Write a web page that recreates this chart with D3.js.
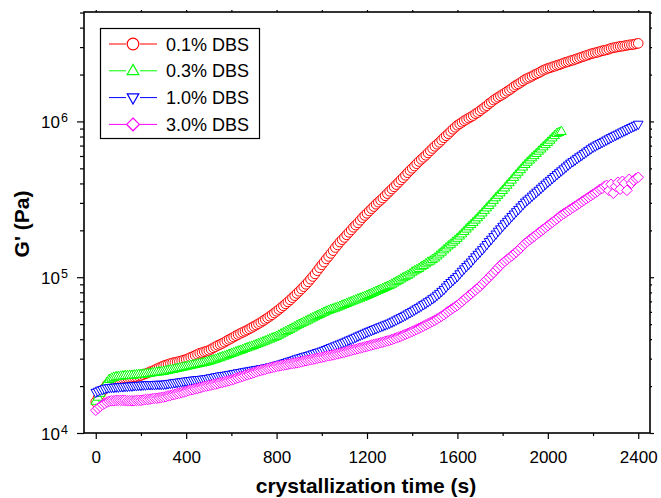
<!DOCTYPE html>
<html>
<head>
<meta charset="utf-8">
<script src="https://cdn.jsdelivr.net/npm/d3@7"></script>
<style>
  body { margin: 0; background: #fff; }
  svg { display: block; }
  text { font-family: Arial, "Liberation Sans", Helvetica, sans-serif; fill: #000; }
</style>
</head>
<body>
<svg id="chart" width="661" height="498"></svg>
<script>
// Storage modulus G' (Pa) recorded every 10 s during isothermal crystallization
const sampleStep = 10; // s

const seriesNames = ["0.1% DBS", "0.3% DBS", "1.0% DBS", "3.0% DBS"];

const dbs01 = [
  15800, 16800, 17700, 18600, 19500, 20400, 21200, 21600, 21900, 22100,
  22200, 22300, 22400, 22500, 22600, 22700, 22800, 22900, 23000, 23200,
  23400, 23700, 24000, 24300, 24700, 25000, 25400, 25800, 26200, 26600,
  27000, 27300, 27600, 27900, 28200, 28400, 28600, 28800, 29100, 29400,
  29700, 30100, 30600, 31000, 31500, 32000, 32500, 32800, 33200, 33500,
  33900, 34500, 35200, 35800, 36500, 37000, 37600, 38300, 39100, 39800,
  40500, 41300, 42100, 42800, 43600, 44300, 45000, 45800, 46600, 47500,
  48400, 49300, 50300, 51300, 52400, 53600, 54800, 56100, 57400, 58900,
  60400, 62000, 63700, 65500, 67400, 69400, 71500, 73800, 76100, 78600,
  81200, 84000, 86900, 90000, 93300, 97100, 101000, 105000, 110000, 115000,
  120000, 125000, 131000, 136000, 142000, 148000, 155000, 161000, 168000, 174000,
  180000, 187000, 194000, 201000, 209000, 216000, 223000, 232000, 241000, 249000,
  257000, 266000, 275000, 284000, 294000, 303000, 312000, 322000, 333000, 344000,
  356000, 368000, 380000, 393000, 407000, 421000, 435000, 451000, 468000, 484000,
  500000, 517000, 535000, 553000, 571000, 588000, 606000, 627000, 648000, 670000,
  692000, 713000, 734000, 759000, 785000, 809000, 833000, 861000, 890000, 917000,
  944000, 965000, 987000, 1010000, 1030000, 1050000, 1070000, 1090000, 1120000, 1140000,
  1170000, 1200000, 1230000, 1260000, 1300000, 1330000, 1370000, 1400000, 1430000, 1460000,
  1490000, 1520000, 1560000, 1590000, 1630000, 1670000, 1710000, 1740000, 1780000, 1820000,
  1860000, 1890000, 1920000, 1950000, 1990000, 2020000, 2050000, 2090000, 2130000, 2160000,
  2190000, 2210000, 2240000, 2260000, 2290000, 2310000, 2340000, 2370000, 2400000, 2420000,
  2450000, 2470000, 2500000, 2530000, 2560000, 2590000, 2620000, 2650000, 2680000, 2710000,
  2740000, 2760000, 2780000, 2810000, 2840000, 2860000, 2880000, 2910000, 2950000, 2970000,
  2990000, 3010000, 3030000, 3040000, 3060000, 3080000, 3100000, 3110000, 3120000, 3150000,
  3170000
];

const dbs03 = [
  16000, 17000, 18000, 19100, 20200, 21200, 22100, 22500, 22800, 23000,
  23100, 23200, 23300, 23400, 23400, 23500, 23500, 23600, 23700, 23800,
  23800, 23900, 24000, 24100, 24200, 24400, 24500, 24600, 24700, 24800,
  24900, 25100, 25300, 25500, 25600, 25800, 26000, 26200, 26400, 26600,
  26800, 27000, 27200, 27400, 27600, 27800, 28000, 28200, 28400, 28600,
  28900, 29200, 29500, 29800, 30200, 30500, 30900, 31200, 31600, 32000,
  32400, 32800, 33200, 33600, 34000, 34400, 34900, 35300, 35700, 36100,
  36500, 37000, 37500, 38000, 38500, 39000, 39600, 40100, 40700, 41200,
  41800, 42500, 43300, 44000, 44800, 45600, 46400, 47200, 48100, 49000,
  49900, 50700, 51500, 52300, 53200, 54100, 55000, 55900, 56800, 57700,
  58700, 59600, 60600, 61400, 62200, 62800, 63500, 64300, 65200, 66100,
  67000, 67900, 68800, 69700, 70700, 71600, 72600, 73500, 74500, 75500,
  76500, 77600, 78800, 80000, 81200, 82400, 83600, 84800, 86100, 87400,
  88700, 90300, 92000, 93800, 95600, 97500, 99400, 101000, 103000, 105000,
  108000, 110000, 112000, 114000, 117000, 119000, 122000, 125000, 127000, 130000,
  133000, 137000, 141000, 145000, 150000, 154000, 159000, 163000, 168000, 173000,
  178000, 184000, 190000, 197000, 204000, 211000, 218000, 225000, 233000, 241000,
  250000, 259000, 269000, 279000, 289000, 300000, 312000, 324000, 336000, 348000,
  361000, 375000, 390000, 405000, 421000, 438000, 455000, 473000, 491000, 510000,
  530000, 548000, 566000, 585000, 604000, 624000, 645000, 666000, 688000, 711000,
  734000, 759000, 785000, 812000, 839000, 851000, 864000
];

const dbs10 = [
  18200, 18500, 18800, 19000, 19200, 19400, 19500, 19600, 19600, 19700,
  19700, 19800, 19800, 19900, 19900, 20000, 20000, 20100, 20100, 20200,
  20200, 20300, 20300, 20400, 20400, 20400, 20400, 20500, 20500, 20500,
  20500, 20600, 20700, 20800, 20900, 21000, 21100, 21200, 21300, 21400,
  21500, 21600, 21700, 21800, 21900, 22000, 22000, 22100, 22200, 22300,
  22400, 22600, 22700, 22900, 23000, 23200, 23300, 23400, 23500, 23700,
  23800, 24000, 24100, 24300, 24400, 24600, 24700, 24900, 25000, 25200,
  25300, 25500, 25600, 25800, 25900, 26100, 26300, 26500, 26700, 26900,
  27200, 27400, 27700, 28000, 28300, 28600, 28900, 29200, 29500, 29900,
  30200, 30500, 30800, 31100, 31400, 31700, 32100, 32400, 32800, 33100,
  33500, 33900, 34300, 34800, 35300, 35700, 36200, 36700, 37200, 37700,
  38200, 38800, 39400, 39900, 40500, 41100, 41800, 42400, 43000, 43600,
  44300, 44900, 45500, 46100, 46700, 47300, 48000, 48600, 49300, 49900,
  50600, 51400, 52200, 53100, 54000, 54900, 55900, 56900, 58000, 59100,
  60200, 61400, 62600, 63900, 65200, 66600, 68000, 69500, 71000, 72700,
  74400, 76500, 78600, 81000, 83400, 86400, 89500, 92300, 95200, 98100,
  101000, 105000, 109000, 113000, 117000, 121000, 125000, 130000, 135000, 140000,
  145000, 150000, 156000, 162000, 169000, 175000, 182000, 189000, 197000, 204000,
  212000, 220000, 228000, 236000, 245000, 254000, 263000, 272000, 282000, 292000,
  303000, 312000, 321000, 331000, 341000, 351000, 361000, 372000, 383000, 395000,
  407000, 418000, 430000, 442000, 455000, 468000, 481000, 495000, 509000, 524000,
  539000, 551000, 564000, 578000, 592000, 606000, 620000, 635000, 651000, 666000,
  682000, 694000, 707000, 719000, 732000, 745000, 759000, 772000, 786000, 800000,
  814000, 827000, 841000, 855000, 869000, 883000, 898000, 913000, 928000, 943000,
  958000
];

const dbs30 = [
  14000, 14400, 14800, 15200, 15500, 15800, 16000, 16100, 16100, 16200,
  16200, 16200, 16200, 16200, 16100, 16100, 16100, 16100, 16200, 16200,
  16200, 16300, 16400, 16400, 16500, 16600, 16700, 16700, 16800, 16900,
  17000, 17100, 17300, 17400, 17600, 17700, 17900, 18000, 18200, 18300,
  18500, 18700, 18900, 19000, 19200, 19300, 19500, 19700, 19900, 20000,
  20200, 20300, 20500, 20600, 20800, 21000, 21100, 21300, 21500, 21700,
  21900, 22100, 22400, 22600, 22900, 23100, 23400, 23600, 23900, 24100,
  24400, 24700, 25000, 25200, 25400, 25600, 25900, 26100, 26300, 26500,
  26800, 26900, 27100, 27200, 27400, 27600, 27800, 27900, 28100, 28200,
  28400, 28600, 28900, 29100, 29300, 29500, 29700, 29900, 30200, 30400,
  30600, 30800, 31100, 31300, 31500, 31700, 32000, 32200, 32500, 32700,
  33000, 33300, 33600, 33900, 34200, 34500, 34800, 35100, 35400, 35700,
  36000, 36300, 36700, 37000, 37300, 37600, 38000, 38300, 38700, 39000,
  39400, 39800, 40300, 40800, 41300, 41800, 42400, 43000, 43600, 44200,
  44900, 45600, 46300, 47000, 47800, 48600, 49400, 50200, 51100, 52000,
  52900, 53900, 55000, 56200, 57400, 58900, 60400, 61800, 63200, 64600,
  66000, 67900, 69800, 71800, 73900, 76000, 78100, 80400, 82700, 85000,
  87400, 90500, 93600, 96800, 100000, 103500, 107000, 111000, 115000, 119000,
  123000, 126500, 130000, 133500, 137000, 141000, 145000, 149500, 154000, 159500,
  165000, 169500, 174000, 178500, 183000, 188000, 193000, 198000, 203000, 208500,
  214000, 219500, 225000, 231000, 237000, 243500, 250000, 255500, 261000, 267000,
  273000, 279000, 285000, 291500, 298000, 305000, 312000, 319000, 326000, 333500,
  341000, 348500, 356000, 367000, 372000, 383000, 389000, 361000, 395000, 346000,
  383000, 407000, 367000, 413000, 401000, 361000, 425000, 401000, 419000, 431000,
  438000
];

const xTicks = [0, 400, 800, 1200, 1600, 2000, 2400];
const xMinorTicks = [200, 600, 1000, 1400, 1800, 2200];
const yDecades = [1e4, 1e5, 1e6];
const yExponents = ["4", "5", "6"];

const colors = ["#ff0000", "#00ff00", "#0000ff", "#ff00ff"];
const symbols = ["circle", "triangleUp", "triangleDown", "diamond"];
const seriesValues = [dbs01, dbs03, dbs10, dbs30];

const svg = d3.select("#chart");
const plot = { left: 84, right: 650, top: 12, bottom: 433 };

const x = d3.scaleLinear().domain([-52, 2452]).range([plot.left, plot.right]);
const y = d3.scaleLog().domain([1e4, 5.04e6]).range([plot.bottom, plot.top]);

// symbol outlines, centred on the data point
function markerPath(kind, s) {
  switch (kind) {
    case "triangleUp":
      return `M0,${-1.1 * s}L${s},${0.65 * s}L${-s},${0.65 * s}Z`;
    case "triangleDown":
      return `M0,${1.1 * s}L${s},${-0.65 * s}L${-s},${-0.65 * s}Z`;
    case "diamond":
      return `M0,${-1.1 * s}L${1.1 * s},0L0,${1.1 * s}L${-1.1 * s},0Z`;
    default:
      return `M${s},0A${s},${s} 0 1,1 ${-s},0A${s},${s} 0 1,1 ${s},0Z`;
  }
}

// data symbols: white-filled, drawn in time order so each one overlaps the previous
seriesValues.forEach((vals, i) => {
  const pts = vals.map((v, k) => ({ t: k * sampleStep, v }));
  svg.append("g")
    .attr("fill", "#fff")
    .attr("stroke", colors[i])
    .attr("stroke-width", 1)
    .selectAll("path")
    .data(pts)
    .join("path")
    .attr("transform", d => `translate(${x(d.t)},${y(d.v)})`)
    .attr("d", markerPath(symbols[i], 4.8));
});

// axes
function styleAxis(g) {
  g.select(".domain").remove();
  g.selectAll("line").attr("stroke", "#000").attr("stroke-width", 1.2);
  g.attr("font-family", null).attr("font-size", null);
}

svg.append("g").attr("transform", `translate(0,${plot.bottom})`)
  .call(d3.axisBottom(x).tickValues(xTicks).tickSize(6).tickPadding(12).tickFormat(d3.format("d")))
  .call(styleAxis)
  .selectAll("text").attr("font-size", 17).attr("fill", "#000");

svg.append("g").attr("transform", `translate(0,${plot.bottom})`)
  .call(d3.axisBottom(x).tickValues(xMinorTicks).tickSize(3).tickFormat(""))
  .call(styleAxis);

svg.append("g").attr("transform", `translate(0,${plot.top})`)
  .call(d3.axisTop(x).tickValues(xTicks.concat(xMinorTicks)).tickSize(2).tickFormat(""))
  .call(styleAxis);

const yMinor = [];
yDecades.forEach(d => { for (let k = 2; k <= 9; k++) if (k * d <= 5.04e6) yMinor.push(k * d); });

svg.append("g").attr("transform", `translate(${plot.left},0)`)
  .call(d3.axisLeft(y).tickValues(yDecades).tickSize(7).tickFormat(""))
  .call(styleAxis);
svg.append("g").attr("transform", `translate(${plot.left},0)`)
  .call(d3.axisLeft(y).tickValues(yMinor).tickSize(4).tickFormat(""))
  .call(styleAxis);
svg.append("g").attr("transform", `translate(${plot.right},0)`)
  .call(d3.axisRight(y).tickValues(yDecades).tickSize(4).tickFormat(""))
  .call(styleAxis);
svg.append("g").attr("transform", `translate(${plot.right},0)`)
  .call(d3.axisRight(y).tickValues(yMinor).tickSize(2).tickFormat(""))
  .call(styleAxis);

// decade labels 10^n
const yLab = svg.append("g").selectAll("g").data(yDecades).join("g")
  .attr("transform", d => `translate(0,${y(d)})`);
yLab.append("text").attr("x", 60).attr("y", 6.5).attr("text-anchor", "end")
  .attr("font-size", 17).text("10");
yLab.append("text").attr("x", 61).attr("y", 0.5)
  .attr("font-size", 12.5).text((d, i) => yExponents[i]);

// frame
svg.append("rect")
  .attr("x", plot.left).attr("y", plot.top)
  .attr("width", plot.right - plot.left).attr("height", plot.bottom - plot.top)
  .attr("fill", "none").attr("stroke", "#000").attr("stroke-width", 1.6);

// axis titles
svg.append("text")
  .attr("transform", "translate(29,224) rotate(-90)")
  .attr("text-anchor", "middle").attr("font-size", 21).attr("font-weight", "bold")
  .text("G' (Pa)");
svg.append("text")
  .attr("x", 366).attr("y", 493)
  .attr("text-anchor", "middle").attr("font-size", 21).attr("font-weight", "bold")
  .text("crystallization time (s)");

// legend
const legend = svg.append("g");
legend.append("rect").attr("x", 100.5).attr("y", 28.5).attr("width", 159).attr("height", 110)
  .attr("fill", "#fff").attr("stroke", "#000").attr("stroke-width", 1.2);
const rows = legend.selectAll("g.row").data(seriesNames).join("g")
  .attr("class", "row")
  .attr("transform", (d, i) => `translate(0,${44 + i * 26.8})`);
rows.append("line").attr("x1", 109).attr("x2", 126).attr("stroke", (d, i) => colors[i]).attr("stroke-width", 1);
rows.append("line").attr("x1", 140).attr("x2", 157).attr("stroke", (d, i) => colors[i]).attr("stroke-width", 1);
rows.append("path")
  .attr("transform", "translate(133,0)")
  .attr("d", (d, i) => markerPath(symbols[i], 5.8))
  .attr("fill", "none").attr("stroke", (d, i) => colors[i]).attr("stroke-width", 1.2);
rows.append("text").attr("x", 166).attr("y", 6.5).attr("font-size", 18).text(d => d);
</script>
</body>
</html>
